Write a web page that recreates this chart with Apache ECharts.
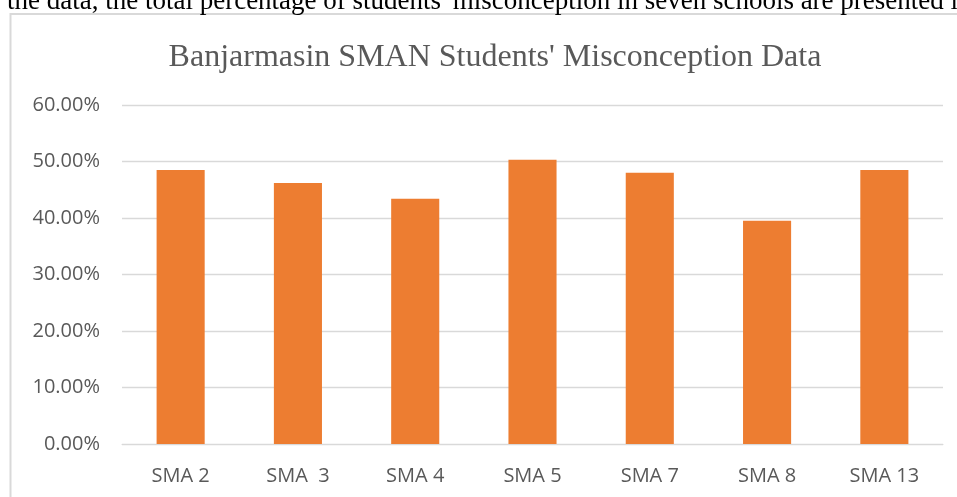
<!DOCTYPE html>
<html>
<head>
<meta charset="utf-8">
<script src="https://cdn.jsdelivr.net/npm/echarts@6/dist/echarts.min.js"></script>
<style>html,body{margin:0;padding:0;background:#fff;}#c{width:957px;height:497px;}</style>
</head>
<body>
<div id="c"></div>
<script>
const titleText = "Banjarmasin SMAN Students' Misconception Data";
const captionText = "the data, the total percentage of students' misconception in seven schools are presented in";
const categories = ['SMA 2', 'SMA  3', 'SMA 4', 'SMA 5', 'SMA 7', 'SMA 8', 'SMA 13'];
const values = [48.5, 46.2, 43.4, 50.3, 48.0, 39.5, 48.5];
const yTicks = [0, 10, 20, 30, 40, 50, 60];

const chart = echarts.init(document.getElementById('c'), null, {renderer: 'canvas'});
chart.setOption({
  animation: false,
  backgroundColor: '#ffffff',
  title: {
    text: titleText,
    left: 490, top: 37,
    textAlign: 'center',
    textStyle: {fontFamily: 'Liberation Serif', fontSize: 32, fontWeight: 'normal', color: '#595959'}
  },
  graphic: [
    {type: 'rect', shape: {x: 10.5, y: 14, width: 1200, height: 800},
     style: {fill: 'none', stroke: '#d9d9d9', lineWidth: 2}, silent: true, z: 1},
    {type: 'text', x: 7, y: 15, z: 2,
     style: {text: captionText, font: '27px "Liberation Serif"', fill: '#000', verticalAlign: 'bottom'}}
  ],
  grid: {left: 122, right: 14, top: 105, bottom: 53, containLabel: false},
  xAxis: {
    type: 'category', data: categories,
    axisLine: {show: true, lineStyle: {color: '#d9d9d9', width: 1}},
    axisTick: {show: false},
    axisLabel: {fontFamily: 'Open Sans', fontSize: 20, color: '#595959', margin: 22}
  },
  yAxis: {
    type: 'value', min: yTicks[0], max: yTicks[yTicks.length - 1], interval: 10,
    axisLine: {show: false}, axisTick: {show: false},
    splitLine: {lineStyle: {color: '#d9d9d9', width: 1.3}},
    axisLabel: {fontFamily: 'Open Sans', fontSize: 20, color: '#595959', margin: 22,
      formatter: v => v.toFixed(2) + '%'}
  },
  series: [{
    type: 'bar', data: values, barWidth: '41%',
    itemStyle: {color: '#ED7D31'}
  }]
});
</script>
</body>
</html>
